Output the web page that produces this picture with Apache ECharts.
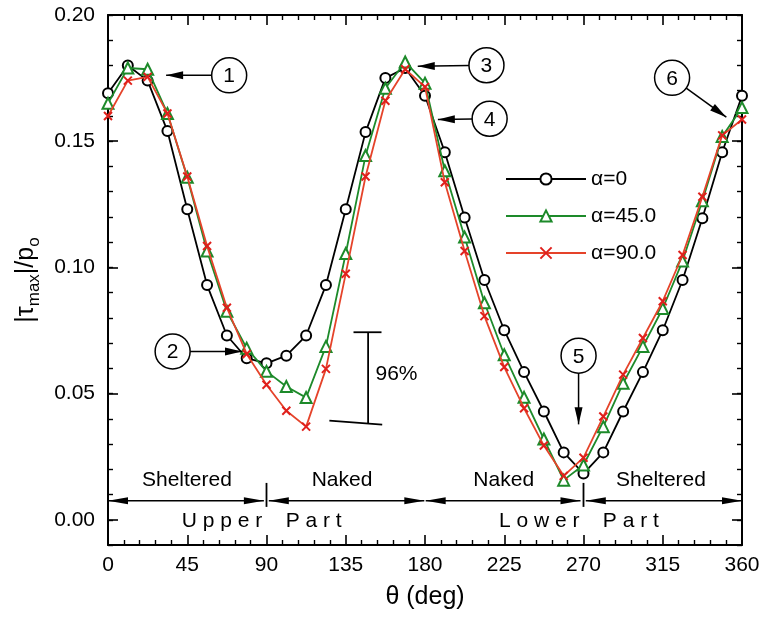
<!DOCTYPE html>
<html><head><meta charset="utf-8">
<script src="https://cdn.jsdelivr.net/npm/echarts@6/dist/echarts.min.js"></script>
<style>html,body{margin:0;padding:0;background:#fff}#c{width:763px;height:619px}</style>
</head><body><div id="c"></div>
<script>
// ---- data ----
const theta = [0,11.25,22.5,33.75,45,56.25,67.5,78.75,90,101.25,112.5,123.75,135,146.25,157.5,168.75,180,
  191.25,202.5,213.75,225,236.25,247.5,258.75,270,281.25,292.5,303.75,315,326.25,337.5,348.75,360];
const alpha0 = [0.169,0.180,0.174,0.154,0.123,0.093,0.073,0.064,0.062,0.065,0.073,0.093,0.123,0.1536,0.175,0.179,0.168,
  0.1456,0.1198,0.095,0.0751,0.0585,0.0429,0.0267,0.0183,0.0267,0.0429,0.0585,0.0751,0.095,0.1195,0.1456,0.168];
const alpha45 = [0.165,0.179,0.1785,0.161,0.1357,0.1065,0.0826,0.068,0.0588,0.0528,0.0484,0.0687,0.1055,0.1443,0.171,0.1814,0.173,
  0.1383,0.112,0.086,0.0654,0.0485,0.032,0.0157,0.0217,0.0369,0.0541,0.0687,0.0837,0.1025,0.1264,0.1519,0.1633];
const alpha90 = [0.160,0.174,0.1755,0.161,0.136,0.1085,0.084,0.0657,0.0535,0.0432,0.0369,0.0598,0.0975,0.136,0.166,0.1785,0.1715,
  0.1337,0.1065,0.0807,0.0605,0.0442,0.0294,0.0174,0.0246,0.0409,0.0575,0.072,0.0866,0.1049,0.128,0.1523,0.1586];
const seriesNames = ['α=0','α=45.0','α=90.0'];
const yMajorTicks = [0,0.05,0.10,0.15,0.20];
const xName = 'θ (deg)';

const FF = '"Liberation Sans", Arial, Helvetica, sans-serif';
const chart = echarts.init(document.getElementById('c'), null, {renderer:'canvas'});

function pairs(vals){ return theta.map((t,i)=>[t, vals[i]]); }

const lineAxis = {onZero:false, lineStyle:{color:'#000', width:2}};
function xAx(pos, showLabel){
  return {
    type:'value', position:pos, min:0, max:360, interval:45,
    axisLine:lineAxis,
    axisTick:{show:true, inside:true, length:10, lineStyle:{color:'#000', width:1.6}},
    minorTick:{show:true, splitNumber:5, length:5, lineStyle:{color:'#000', width:1.4}},
    axisLabel:{show:showLabel, fontSize:21, color:'#000', fontFamily:FF, margin:10},
    splitLine:{show:false}, minorSplitLine:{show:false},
    name: showLabel ? xName : '', nameLocation:'middle', nameGap:40,
    nameTextStyle:{fontSize:25, color:'#000', fontFamily:FF}
  };
}
function yAx(pos, showLabel){
  return {
    type:'value', position:pos, min:-0.01, max:0.20, interval:0.01,
    axisLine:lineAxis,
    axisTick:{show:true, inside:true, length:5, lineStyle:{color:'#000', width:1.4}},
    axisLabel:{show:showLabel, fontSize:21, color:'#000', fontFamily:FF, margin:13,
      formatter:function(v){ const k=Math.round(v*100); return (k%5===0 && k>=0) ? (k/100).toFixed(2) : ''; }},
    splitLine:{show:false},
    name: showLabel ? '{a||τ}{s|max}{a||/p}{s|o}' : '',
    nameLocation:'middle', nameRotate:90, nameGap:55,
    nameTextStyle:{color:'#000', fontFamily:FF, rich:{
      a:{fontSize:25, lineHeight:34, verticalAlign:'middle', fontFamily:FF, color:'#000'},
      s:{fontSize:17, lineHeight:17, verticalAlign:'bottom', fontFamily:FF, color:'#000'}
    }}
  };
}
function yMajor(pos){
  return {
    type:'value', position:pos, min:-0.01, max:0.20,
    axisLine:{show:false, onZero:false},
    axisTick:{show:true, inside:true, length:10, customValues:yMajorTicks, lineStyle:{color:'#000', width:1.6}},
    axisLabel:{show:false}, splitLine:{show:false}
  };
}

const option = {
  animation:false,
  backgroundColor:'#fff',
  textStyle:{fontFamily:FF},
  grid:{left:108, right:21, top:15, bottom:74, containLabel:false},
  xAxis:[xAx('bottom', true), xAx('top', false)],
  yAxis:[yAx('left', true), yMajor('left'), yAx('right', false), yMajor('right')],
  legend:{
    orient:'vertical', left:500, top:162, itemWidth:80, itemHeight:14, itemGap:13,
    textStyle:{fontSize:21, color:'#000', fontFamily:FF, lineHeight:24},
    data:seriesNames
  },
  series:[
    {name:seriesNames[0], type:'line', data:pairs(alpha0), symbol:'emptyCircle', symbolSize:10,
      lineStyle:{color:'#000', width:1.8}, itemStyle:{color:'#000', borderColor:'#000', borderWidth:1.6}, z:3},
    {name:seriesNames[1], type:'line', data:pairs(alpha45), symbol:'emptyTriangle', symbolSize:11,
      lineStyle:{color:'#1d8a2a', width:1.8}, itemStyle:{color:'#1d8a2a', borderColor:'#1d8a2a', borderWidth:1.6}, z:4},
    {name:seriesNames[2], type:'line', data:pairs(alpha90), symbol:'path://M0 0L10 10M10 0L0 10', symbolSize:8,
      lineStyle:{color:'#e5432a', width:1.8}, itemStyle:{color:'#e0201c', borderColor:'#e0201c', borderWidth:2}, z:5}
  ]
};
chart.setOption(option);

// ---- annotations (positioned in data coordinates) ----
const P = (d,v)=>chart.convertToPixel({xAxisIndex:0, yAxisIndex:0}, [d,v]);
const els = [];
const black = '#000';
function head(tip, from, len, w){
  const dx=tip[0]-from[0], dy=tip[1]-from[1], L=Math.hypot(dx,dy), ux=dx/L, uy=dy/L;
  const bx=tip[0]-ux*len, by=tip[1]-uy*len;
  return {type:'polygon', shape:{points:[[tip[0],tip[1]],[bx-uy*w, by+ux*w],[bx+uy*w, by-ux*w]]}, style:{fill:black}, z:20};
}
function line(a,b,w){ return {type:'line', shape:{x1:a[0],y1:a[1],x2:b[0],y2:b[1]}, style:{stroke:black, lineWidth:w||1.5}, z:20}; }
function text(p, s, size, align){
  return {type:'text', x:p[0], y:p[1], style:{text:s, fontSize:size||21, fontFamily:FF, fill:black, align:align||'center', verticalAlign:'middle'}, z:20};
}
function callout(num, c, tipD){
  const cp = P(c[0], c[1]); const tp = P(tipD[0], tipD[1]);
  const r = 17.5;
  const dx=tp[0]-cp[0], dy=tp[1]-cp[1], L=Math.hypot(dx,dy);
  const start=[cp[0]+dx/L*r, cp[1]+dy/L*r];
  els.push({type:'circle', shape:{cx:cp[0], cy:cp[1], r:r}, style:{fill:'none', stroke:black, lineWidth:1.5}, z:20});
  els.push(text([cp[0], cp[1]+1], num, 21));
  els.push(line(start, tp, 1.5));
  els.push(head(tp, start, 17, 4));
}
callout('1', [68.8,0.1761], [33.0,0.1761]);
callout('2', [36.7,0.0667], [76.1,0.0667]);
callout('3', [214.9,0.1801], [175.9,0.1797]);
callout('4', [216.7,0.1589], [187.3,0.1586]);
callout('5', [267.2,0.0650], [267.2,0.0378]);
callout('6', [320.3,0.1751], [351.1,0.1595]);

// 96% bracket
els.push(line(P(147.7,0.0743), P(147.7,0.0381), 1.8));
els.push(line(P(139.4,0.0743), P(155.3,0.0743), 1.8));
els.push(line(P(125.7,0.0393), P(155.7,0.0377), 1.8));
els.push(text(P(151.9,0.0576), '96%', 21, 'left'));

// region labels
els.push(text(P(44.8,0.0158), 'Sheltered', 21));
els.push(text(P(132.9,0.0158), 'Naked', 21));
els.push(text(P(224.7,0.0155), 'Naked', 21));
els.push(text(P(314.0,0.0155), 'Sheltered', 21));
els.push(text(P(87.3,-0.0005), 'U p p e r    P a r t', 21));
els.push(text(P(267.4,-0.0005), 'L o w e r    P a r t', 21));

// double arrows
const yArr = 0.0075;
[[0,88.5],[91.3,179.6],[180.4,268.3],[271.3,360]].forEach(function(s){
  const a=P(s[0],yArr), b=P(s[1],yArr);
  els.push(line(a,b,1.5));
  els.push(head(a,b,20,3.5));
  els.push(head(b,a,20,3.5));
});
[90,270].forEach(function(d){ els.push(line(P(d,0.0146), P(d,0.0051), 1.8)); });

chart.setOption({graphic:{elements:els}});
</script></body></html>
